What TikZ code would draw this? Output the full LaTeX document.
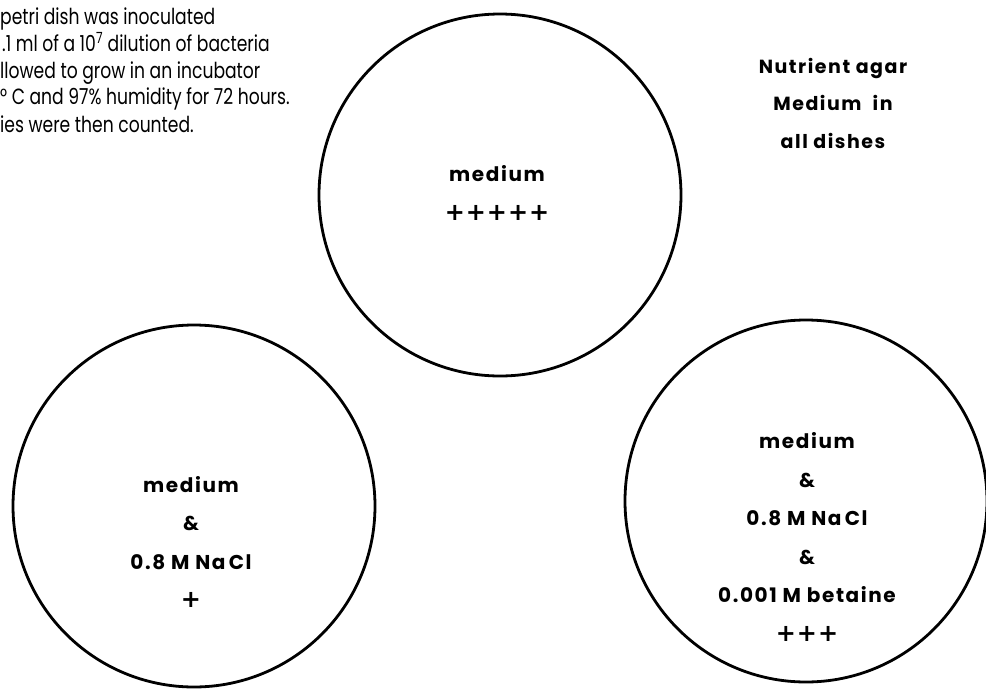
\documentclass[tikz,border=0pt]{standalone}
\usepackage{fontspec}
\setmainfont{Poppins}
\newfontfamily\notefont[FakeStretch=0.78]{Poppins}
\newfontfamily\dishfont[LetterSpace=8]{Poppins}
\newfontfamily\plusfont[LetterSpace=4]{DejaVu Sans}
\newcommand\growth[1]{{\plusfont\bfseries\fontsize{24}{24}\selectfont #1}}
\usetikzlibrary{positioning}

\begin{document}
\begin{tikzpicture}[
  x=1pt, y=-1pt,
  dish/.style = {draw, circle, line width=2.8pt, minimum size=362pt, inner sep=0pt},
  lbl/.style  = {align=center, inner sep=0pt, font=\dishfont\bfseries\fontsize{20}{38.5}\selectfont},
  note/.style = {anchor=base west, inner sep=0pt, font=\notefont\fontsize{22}{24}\selectfont}
]
  \useasboundingbox (0,0) rectangle (986,689);

  % Petri dishes
  \node[dish] (dishtop) at (500,195) {};
  \node[dish] (dishleft) at (194,506) {};
  \node[dish] (dishright) at (806,501) {};

  % Contents of the dishes
  \node[lbl] (toptext) at (497,193) {medium\\\growth{+++++}};
  \node[lbl] (lefttext) at (191,542) {medium\\\&\\0.8 M Na\,Cl\\\growth{+}};
  \node[lbl] (righttext) at (807,537) {medium\\\&\\0.8 M Na\,Cl\\\&\\0.001 M betaine\\\growth{+++}};

  % Medium note
  \node[lbl, font=\dishfont\bfseries\fontsize{19}{37.5}\selectfont] (medium) at (833,103)
    {Nutrient agar\\Medium\ \ in\\all dishes};

  % Method note
  \node[note] (line1) at (0,24) {petri dish was inoculated};
  \node[note] (line2) at (2,51) {.1 ml of a 10\textsuperscript{7} dilution of bacteria};
  \node[note] (line3) at (0,78) {llowed to grow in an incubator};
  \node[note] (line4) at (0,104) {° C and 97\% humidity for 72 hours.};
  \node[note] (line5) at (0,132) {ies were then counted.};

\end{tikzpicture}
\end{document}
